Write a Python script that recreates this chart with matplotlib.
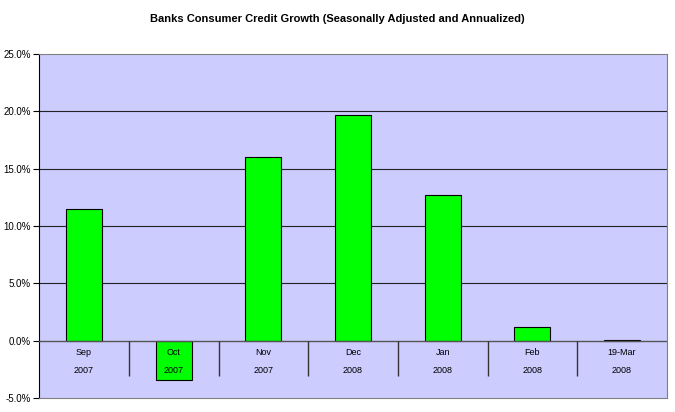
import matplotlib.pyplot as plt
import numpy as np

plt.rcParams["font.family"] = ["Liberation Sans", "DejaVu Sans"]

months = ["Sep", "Oct", "Nov", "Dec", "Jan", "Feb", "19-Mar"]
years = ["2007", "2007", "2007", "2008", "2008", "2008", "2008"]
growth = [11.5, -3.4, 16.0, 19.7, 12.7, 1.2, 0.1]

fig = plt.figure(figsize=(6.75, 4.12), dpi=100)
ax = fig.add_axes([0.058, 0.034, 0.930, 0.835])
ax.set_facecolor("#CCCCFF")

x = np.arange(len(months))
ax.bar(x, growth, width=0.4, color="#00FF00", edgecolor="black", linewidth=0.8, zorder=3)

ax.set_xlim(-0.5, len(months) - 0.5)
ax.set_ylim(-5, 25)
ax.set_yticks(np.arange(-5, 26, 5))
ax.set_yticklabels([f"{v:.1f}%" for v in np.arange(-5, 26, 5)], fontsize=7)
ax.tick_params(axis="y", length=4, width=0.8, pad=2)
ax.set_xticks([])

for v in [5, 10, 15, 20]:
    ax.axhline(v, color="#222222", linewidth=0.8, zorder=1)
ax.axhline(0, color="#555555", linewidth=1.0, zorder=4)

# category separators below the zero line
ax.vlines(x[:-1] + 0.5, -3.1, 0, color="#333333", linewidth=1.0, zorder=4)

for i in range(len(months)):
    ax.text(x[i], -1.0, months[i], ha="center", va="center", fontsize=6.5, zorder=5)
    ax.text(x[i], -2.6, years[i], ha="center", va="center", fontsize=6.5, zorder=5)

for side in ["top", "right", "bottom"]:
    ax.spines[side].set_color("#808080")
ax.spines["left"].set_color("black")

fig.text(0.5, 0.953, "Banks Consumer Credit Growth (Seasonally Adjusted and Annualized)",
         ha="center", va="center", fontsize=8, fontweight="bold")

fig.savefig("out.png", dpi=100)
